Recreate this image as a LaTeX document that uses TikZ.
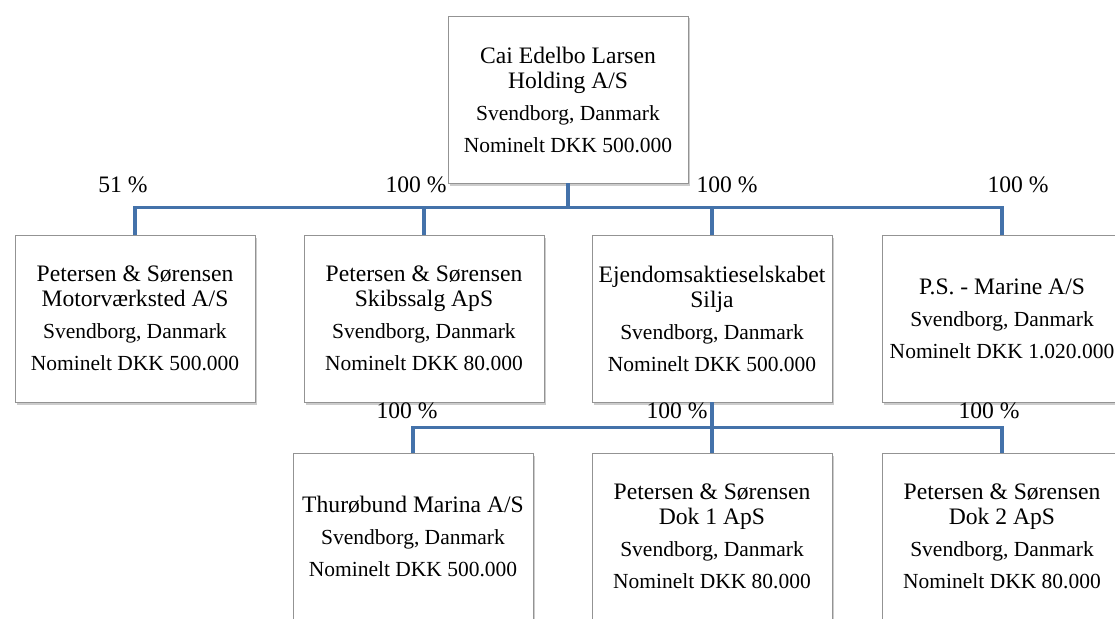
\documentclass[tikz,border=0pt]{standalone}
\usepackage{fontspec}
\setmainfont{Liberation Serif}
\usetikzlibrary{shadows}
\definecolor{linkblue}{RGB}{68,114,170}
\newcommand{\firmname}[1]{{\fontsize{23.6}{25}\selectfont #1}}

\begin{document}
\begin{tikzpicture}[x=1pt,y=-1pt,
 firm/.style={draw=gray!85,line width=0.8pt,fill=white,minimum width=240pt,minimum height=167pt,inner sep=0pt,align=center,font=\fontsize{21.5}{25}\selectfont,drop shadow={shadow xshift=2pt,shadow yshift=-2.5pt,opacity=0.4}},
 link/.style={draw=linkblue,line width=3.5pt},
 share/.style={font=\fontsize{23.6}{25}\selectfont,inner sep=0pt}]
 \useasboundingbox (0,0) rectangle (1115,618);
 \clip (0,0) rectangle (1115,618);
 \node[firm] (hold) at (568,99.5) {\firmname{Cai Edelbo Larsen}\\\firmname{Holding A/S}\\[7pt]Svendborg, Danmark\\[7pt]Nominelt DKK 500.000};
 \node[firm] (motor) at (135,318.5) {\firmname{Petersen \& Sørensen}\\\firmname{Motorværksted A/S}\\[7pt]Svendborg, Danmark\\[7pt]Nominelt DKK 500.000};
 \node[firm] (skib) at (424,318.5) {\firmname{Petersen \& Sørensen}\\\firmname{Skibssalg ApS}\\[7pt]Svendborg, Danmark\\[7pt]Nominelt DKK 80.000};
 \node[firm] (ejd) at (712,318.5) {\firmname{Ejendomsaktieselskabet}\\\firmname{Silja}\\[7pt]Svendborg, Danmark\\[7pt]Nominelt DKK 500.000};
 \node[firm] (marine) at (1002,318.5) {\firmname{P.S. - Marine A/S}\\[7pt]Svendborg, Danmark\\[7pt]Nominelt DKK 1.020.000};
 \node[firm] (thur) at (413,536.5) {\firmname{Thurøbund Marina A/S}\\[7pt]Svendborg, Danmark\\[7pt]Nominelt DKK 500.000};
 \node[firm] (dok1) at (712,536.5) {\firmname{Petersen \& Sørensen}\\\firmname{Dok 1 ApS}\\[7pt]Svendborg, Danmark\\[7pt]Nominelt DKK 80.000};
 \node[firm] (dok2) at (1002,536.5) {\firmname{Petersen \& Sørensen}\\\firmname{Dok 2 ApS}\\[7pt]Svendborg, Danmark\\[7pt]Nominelt DKK 80.000};
 \draw[link] (hold.south) -- ++(0,25);
 \draw[link] (motor.north) -- ++(0,-27) -| (marine.north);
 \draw[link] (skib.north) -- ++(0,-27);
 \draw[link] (ejd.north) -- ++(0,-27);
 \draw[link] (ejd.south) -- (dok1.north);
 \draw[link] (thur.north) -- ++(0,-25) -| (dok2.north);
 \node[share] (p1) at (123,185) {51 \%};
 \node[share] (p2) at (416,185) {100 \%};
 \node[share] (p3) at (727,185) {100 \%};
 \node[share] (p4) at (1018,185) {100 \%};
 \node[share] (p5) at (407,411) {100 \%};
 \node[share] (p6) at (677,411) {100 \%};
 \node[share] (p7) at (989,411) {100 \%};
\end{tikzpicture}
\end{document}
